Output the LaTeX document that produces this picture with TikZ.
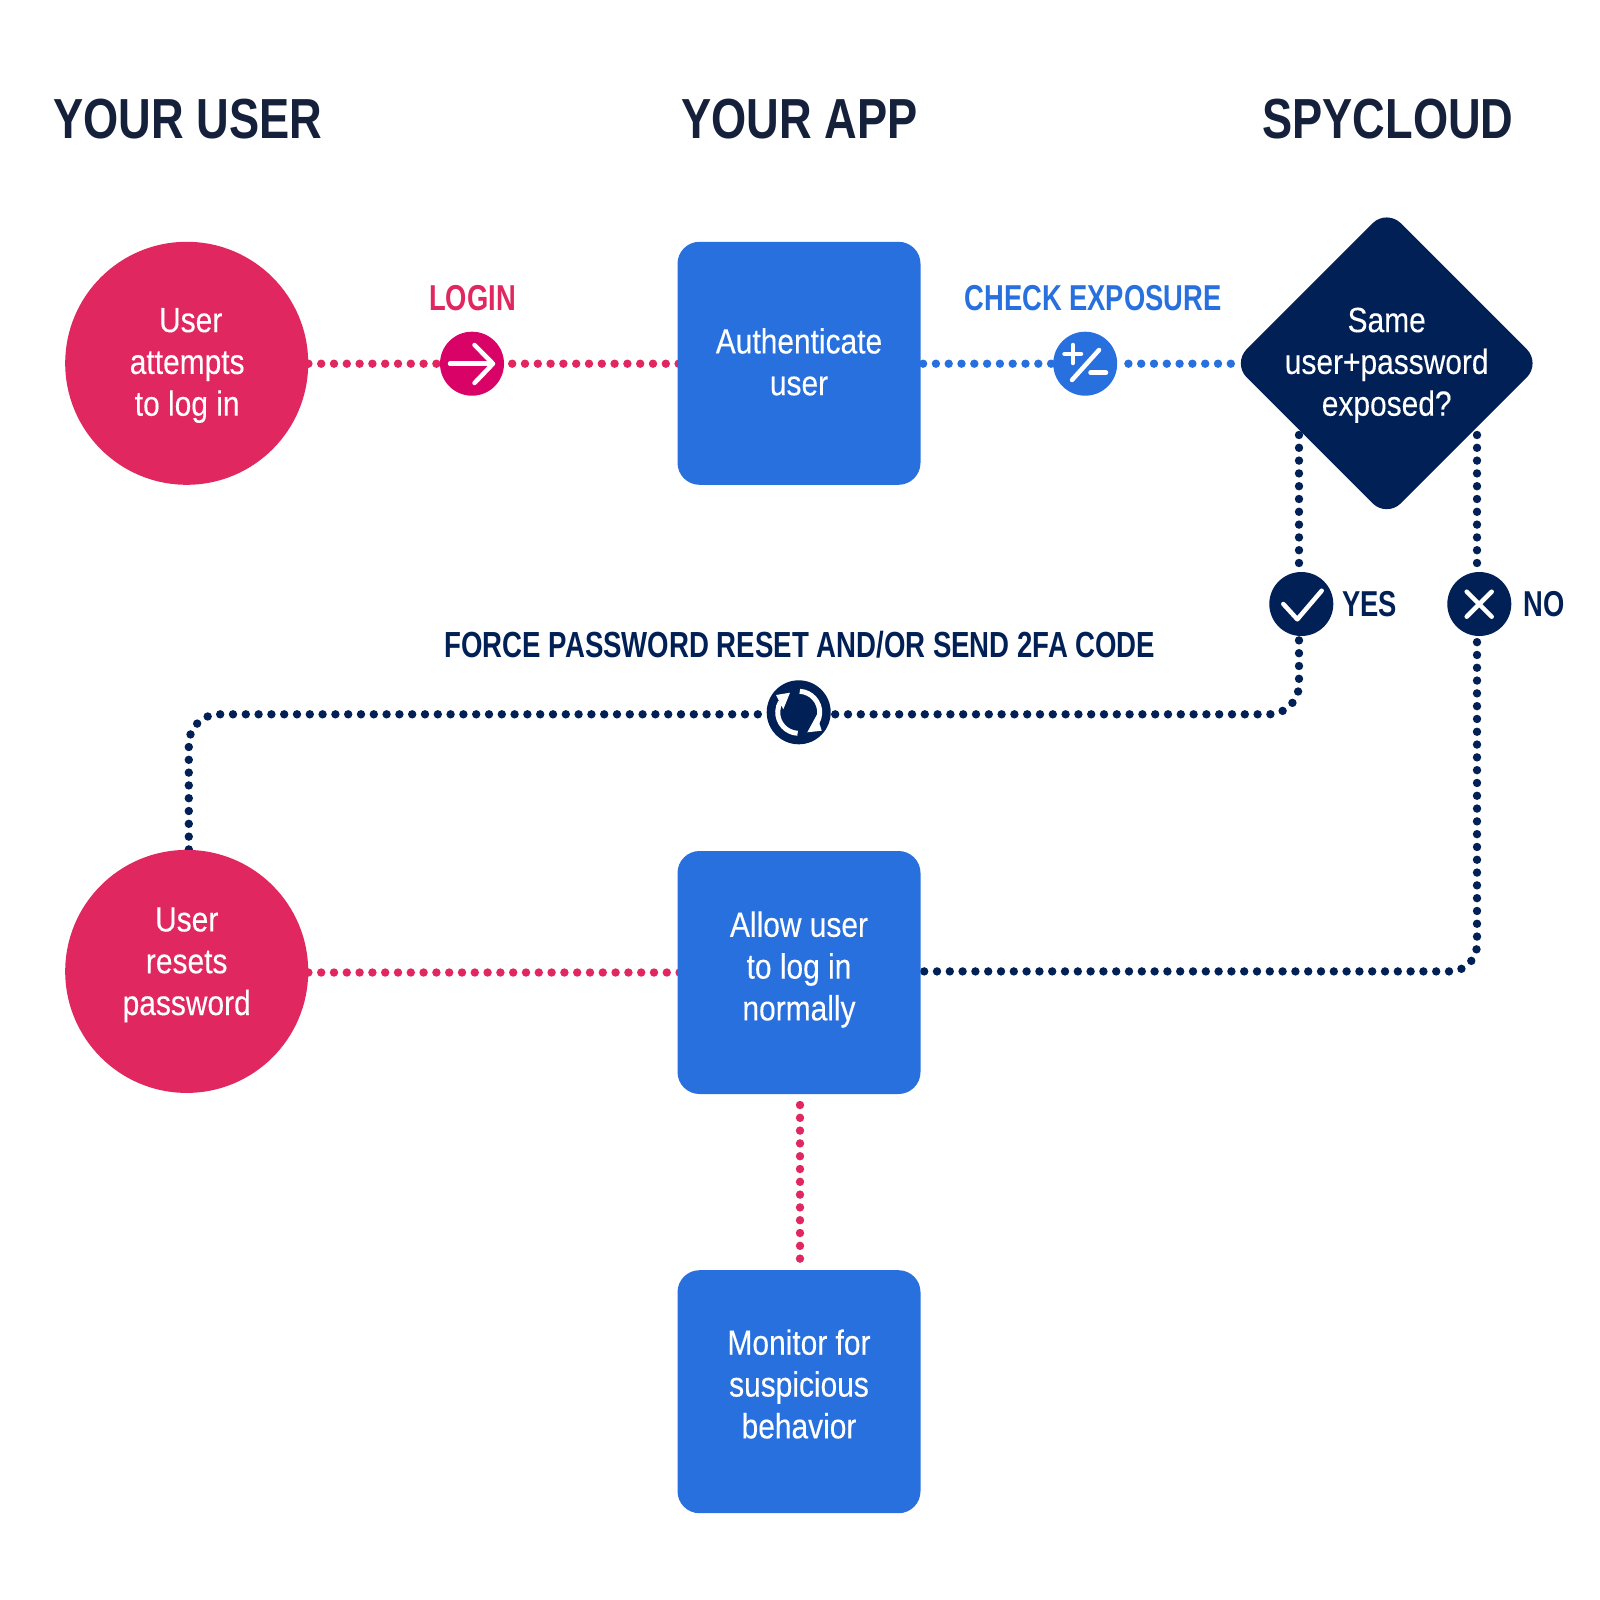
\documentclass[tikz,border=0pt]{standalone}
\usepackage{fontspec}
\usetikzlibrary{backgrounds}
\setmainfont[FakeStretch=0.8]{Liberation Sans}
\newfontfamily\bodyf[FakeStretch=0.855,FakeBold=0.2]{Liberation Sans}
\newfontfamily\labf[FakeStretch=0.76]{Liberation Sans}
\definecolor{pinkc}{HTML}{E0275F}
\definecolor{magc}{HTML}{D90368}
\definecolor{bluec}{HTML}{2970DF}
\definecolor{navyc}{HTML}{012056}
\definecolor{headc}{HTML}{15203A}
\tikzset{
  dots/.style={line width=8.4pt,line cap=round,dash pattern=on 0pt off 12.8pt},
  pinkdots/.style={dots,draw=pinkc},
  bluedots/.style={dots,draw=bluec},
  navydots/.style={dots,draw=navyc},
  circ/.style={circle,fill=pinkc,minimum size=243pt,inner sep=0pt},
  boxs/.style={rectangle,fill=bluec,minimum size=243pt,rounded corners=22pt,inner sep=0pt},
  dia/.style={rectangle,fill=navyc,minimum size=218pt,rounded corners=20pt,rotate=45,inner sep=0pt},
  badge/.style={circle,minimum size=64pt,inner sep=0pt},
  body/.style={text=white,align=center,inner sep=0pt,font=\fontsize{35}{41.8}\bodyf},
  head/.style={text=headc,inner sep=0pt,font=\fontsize{56.5}{60}\selectfont\bfseries},
  lab/.style={inner sep=0pt,font=\fontsize{36}{40}\labf\bfseries},
  icon/.style={draw=white,line width=4.5pt,line cap=round,line join=round},
}
\begin{document}
\begin{tikzpicture}[x=1pt,y=-1pt]
\useasboundingbox (0,0) rectangle (1600,1600);
% headings
\node[head] (h1) at (187.8,119.4) {YOUR USER};
\node[head] (h2) at (799.5,119.4) {YOUR APP};
\node[head] (h3) at (1388,119.4) {SPYCLOUD};
% main shapes
\node[circ] (user1) at (186.7,363.3) {};
\node[circ] (user2) at (186.7,971.4) {};
\node[boxs] (auth) at (799,363.3) {};
\node[boxs] (allow) at (799,972.5) {};
\node[boxs] (monitor) at (799,1391.7) {};
\node[dia] (exposed) at (1386.7,363.3) {};
% badges
\node[badge,fill=magc] (login) at (472,363.7) {};
\node[badge,fill=bluec] (check) at (1085.2,363.7) {};
\node[badge,fill=navyc] (yes) at (1301.3,604) {};
\node[badge,fill=navyc] (no) at (1479.3,604) {};
\node[badge,fill=navyc] (reset) at (798.7,712.3) {};
% connector end points
\coordinate (dw) at (1238,363.7);
\coordinate (dy) at (1299,435);
\coordinate (dn) at (1477,435);
\coordinate (yt) at (1299,563.5);
\coordinate (yb) at (1299,640);
\coordinate (nt) at (1477,563.5);
\coordinate (nb) at (1477,640);
\coordinate (fy) at (1299,714.3);
\coordinate (fx) at (188.8,714.3);
\coordinate (nc) at (1477,971.4);
\coordinate (mt) at (800,1105);
\coordinate (mb) at (800,1259);
% connectors, behind the shapes
\begin{scope}[on background layer]
\fill[white] (0,0) rectangle (1600,1600);
\draw[pinkdots] (user1.east |- login) -- (login);
\draw[pinkdots,shorten <=8pt,shorten >=-1.5pt] (login.east) -- (auth.west |- login);
\draw[bluedots,shorten <=2.4pt] (auth.east |- check) -- (check.west);
\draw[bluedots,shorten <=11pt] (check.east) -- (dw);
\draw[navydots] (dy) -- (yt);
\draw[navydots] (dn) -- (nt);
\draw[navydots,rounded corners=30pt,shorten <=4.3pt] (reset.east |- fy) -- (fy) -- (yb);
\draw[navydots,rounded corners=30pt,shorten <=8.7pt] (reset.west |- fx) -- (fx) -- (user2.north -| fx);
\draw[navydots,rounded corners=27pt,shorten <=3.5pt] (allow.east |- nc) -- (nc) -- (nb);
\draw[pinkdots,shorten >=-3pt] (user2.east |- allow) -- (allow.west);
\draw[pinkdots] (mt) -- (mb);
\end{scope}
% shape texts
\node[body] (t1) at (187.2,365.5) {\hspace*{7pt}User\\attempts\\to log in};
\node[body] (t2) at (186.7,964.8) {User\\resets\\password};
\node[body] (t3) at (799,361.8) {Authenticate\\user};
\node[body] (t4) at (799,969.5) {Allow user\\to log in\\normally};
\node[body] (t5) at (799,1384) {Monitor for\\suspicious\\behavior};
\node[body] (t6) at (1386.7,365.3) {Same\\user+password\\exposed?};
% labels
\node[lab,text=pinkc] (l1) at (472.5,298) {LOGIN};
\node[lab,text=bluec] (l2) at (1093,298) {CHECK EXPOSURE};
\node[lab,text=navyc,font=\fontsize{36.3}{40}\labf\bfseries] (l3) at (800,645) {FORCE PASSWORD RESET AND/OR SEND 2FA CODE};
\node[lab,text=navyc,anchor=west] (l4) at (1342,604) {YES};
\node[lab,text=navyc,anchor=west] (l5) at (1523.5,604) {NO};
% icons
\draw[icon] (450,363.7) -- (492,363.7);
\draw[icon] (474.5,345) -- (493,363.7) -- (474.5,383);
\draw[icon] (1064.5,354) -- (1081,354) (1072.9,345) -- (1072.9,363);
\draw[icon] (1099,350) -- (1072,380);
\draw[icon] (1090.5,372.7) -- (1106,372.7);
\draw[icon] (1283.3,604) -- (1297.3,619.3) -- (1321.7,590.7);
\draw[icon] (1466.7,591.7) -- (1491.7,616.7) (1491.7,591.7) -- (1466.7,616.7);
\draw[icon,line cap=butt,line width=5pt] (798.7,712.3) ++(-87:21) arc (-87:30:21);
\draw[icon,line cap=butt,line width=5pt] (798.7,712.3) ++(93:21) arc (93:210:21);
\fill[white] (816.7,715) -- (807.3,732.3) -- (821.7,730.7) -- cycle;
\fill[white] (776,695) -- (790,692.7) -- (783.3,709.3) -- cycle;
\end{tikzpicture}
\end{document}
